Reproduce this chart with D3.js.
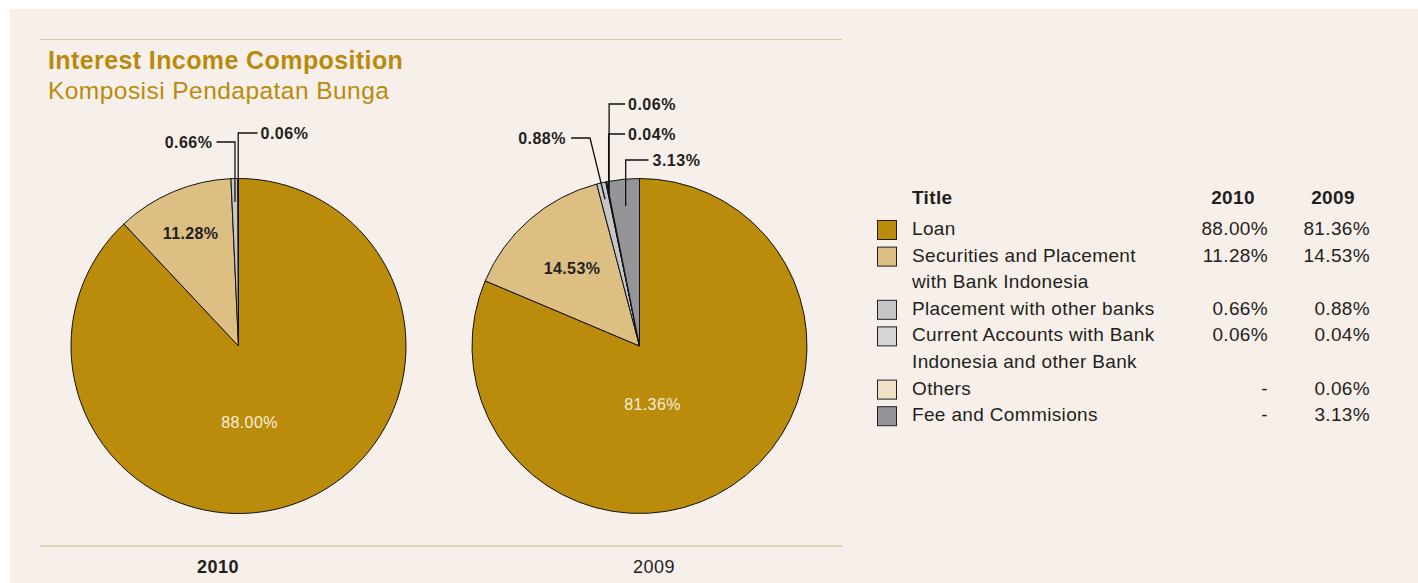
<!DOCTYPE html>
<html>
<head>
<meta charset="utf-8">
<script src="https://cdn.jsdelivr.net/npm/d3@7"></script>
<style>
  html, body { margin: 0; padding: 0; background: #ffffff; }
  svg { display: block; font-family: "Liberation Sans", Arial, Helvetica, sans-serif; }
</style>
</head>
<body>
<svg id="chart" width="1418" height="583"></svg>
<script>
// ---------------- DATA ----------------
const categories = [
  "Loan",
  "Securities and Placement with Bank Indonesia",
  "Placement with other banks",
  "Current Accounts with Bank Indonesia and other Bank",
  "Others",
  "Fee and Commisions"
];
const legendLines = [
  ["Loan"],
  ["Securities and Placement", "with Bank Indonesia"],
  ["Placement with other banks"],
  ["Current Accounts with Bank", "Indonesia and other Bank"],
  ["Others"],
  ["Fee and Commisions"]
];
const years = ["2010", "2009"];
const values2010 = [88.00, 11.28, 0.66, 0.06, null, null];
const values2009 = [81.36, 14.53, 0.88, 0.04, 0.06, 3.13];
const titleText = "Interest Income Composition";
const subtitleText = "Komposisi Pendapatan Bunga";
const tableHeader = ["Title", "2010", "2009"];

// ---------------- STYLE ----------------
const colors = ["#BB8B0B", "#DDBF84", "#C5C6C8", "#D4D5D7", "#EFE1C5", "#939598"];
const gold = "#BA8A0C";
const ink = "#231F20";
const ruleColor = "#D9C7A8";
const fmt = v => v.toFixed(2) + "%";

const svg = d3.select("#chart");
svg.append("rect").attr("x", 10).attr("y", 9).attr("width", 1408).attr("height", 574).attr("fill", "#F7F0EA");

// rules
svg.append("line").attr("x1", 40).attr("x2", 842).attr("y1", 39.5).attr("y2", 39.5)
  .attr("stroke", ruleColor).attr("stroke-width", 1.2);
svg.append("line").attr("x1", 40).attr("x2", 842).attr("y1", 546).attr("y2", 546)
  .attr("stroke", ruleColor).attr("stroke-width", 1.5);

// titles
svg.append("text").attr("x", 48).attr("y", 69).attr("fill", gold)
  .attr("font-size", 25).attr("letter-spacing", 0.4).attr("font-weight", "bold").text(titleText);
svg.append("text").attr("x", 48).attr("y", 99).attr("fill", gold)
  .attr("font-size", 24.5).attr("letter-spacing", 0.45).text(subtitleText);

// ---------------- PIES ----------------
const R = 167.5;
const pie = d3.pie().sort(null).value(d => d.v).startAngle(0).endAngle(2 * Math.PI);
const arc = d3.arc().innerRadius(0).outerRadius(R);

function polar(angle, r) { return [Math.sin(angle) * r, -Math.cos(angle) * r]; }

// per-pie layout: leader-labelled slices and inner labels
const pieConfigs = [
  {
    year: "2010", values: values2010, cx: 238.5, cy: 346, bold: true, yearX: 218,
    inner: { 0: { dx: 11, dy: 76, color: "#F8EFDD" }, 1: { r: 0.735, color: ink } },
    leaders: {
      2: { ar: 0.86, ey: 142, ex: null, hx: -22, tx: -26, anchor: "end" },
      3: { ar: 0.86, ey: 133, ex: null, hx: 19, tx: 22, anchor: "start" }
    }
  },
  {
    year: "2009", values: values2009, cx: 639.5, cy: 346, bold: false, yearX: 654,
    inner: { 0: { dx: 13, dy: 58, color: "#F8EFDD" }, 1: { r: 0.615, color: ink } },
    leaders: {
      2: { ar: 0.9, ey: 138, ex: -49.5, hx: -68.5, tx: -73.5, anchor: "end" },
      3: { ar: 0.92, ey: 134, ex: null, hx: -14.5, tx: -11.5, anchor: "start" },
      4: { ar: 0.92, ey: 104, ex: null, hx: -14.5, tx: -11.5, anchor: "start" },
      5: { ar: 0.84, ey: 160, ex: null, hx: 9, tx: 13, anchor: "start" }
    }
  }
];

pieConfigs.forEach(cfg => {
  const data = categories.map((c, i) => ({ c, i, v: cfg.values[i] || 0 }));
  const arcs = pie(data).filter(d => d.data.v > 0);
  const g = svg.append("g").attr("transform", `translate(${cfg.cx},${cfg.cy})`);

  g.selectAll("path.slice").data(arcs).join("path")
    .attr("class", "slice")
    .attr("d", arc)
    .attr("fill", d => colors[d.data.i])
    .attr("stroke", "#111")
    .attr("stroke-width", 1)
    .attr("stroke-linejoin", "round");

  // leaders
  arcs.forEach(d => {
    const L = cfg.leaders[d.data.i];
    if (!L) return;
    const mid = (d.startAngle + d.endAngle) / 2;
    const [ax, ay] = polar(mid, R * L.ar);
    const ex = L.ex === null ? ax : L.ex;
    const pts = [[ax, ay], [ex, L.ey - cfg.cy], [L.hx, L.ey - cfg.cy]];
    g.append("path").attr("d", d3.line()(pts)).attr("fill", "none")
      .attr("stroke", "#111").attr("stroke-width", 1.3);
    g.append("text").attr("x", L.tx).attr("y", L.ey - cfg.cy + 6)
      .attr("text-anchor", L.anchor).attr("font-size", 16).attr("letter-spacing", 0.5)
      .attr("font-weight", "bold").attr("fill", ink).text(fmt(d.data.v));
  });

  // inner labels
  arcs.forEach(d => {
    const I = cfg.inner[d.data.i];
    if (!I) return;
    let x, y;
    if (I.r !== undefined) {
      const mid = (d.startAngle + d.endAngle) / 2;
      [x, y] = polar(mid, R * I.r);
    } else { x = I.dx; y = I.dy; }
    g.append("text").attr("x", x).attr("y", y + 6).attr("text-anchor", "middle")
      .attr("font-size", 16).attr("letter-spacing", 0.4)
      .attr("font-weight", d.data.i === 0 ? "normal" : "bold")
      .attr("fill", I.color).text(fmt(d.data.v));
  });

  svg.append("text").attr("x", cfg.yearX).attr("y", 573)
    .attr("text-anchor", "middle").attr("font-size", 18).attr("letter-spacing", 0.5)
    .attr("font-weight", cfg.bold ? "bold" : "normal").attr("fill", ink).text(cfg.year);
});

// ---------------- LEGEND TABLE ----------------
const lg = svg.append("g");
const lineH = 26.6;
const fs = 19, ls = 0.35;
lg.append("text").attr("x", 912).attr("y", 204).attr("font-size", fs).attr("letter-spacing", ls).attr("font-weight", "bold").attr("fill", ink).text(tableHeader[0]);
lg.append("text").attr("x", 1233).attr("y", 204).attr("text-anchor", "middle").attr("font-size", fs).attr("letter-spacing", ls).attr("font-weight", "bold").attr("fill", ink).text(tableHeader[1]);
lg.append("text").attr("x", 1333).attr("y", 204).attr("text-anchor", "middle").attr("font-size", fs).attr("letter-spacing", ls).attr("font-weight", "bold").attr("fill", ink).text(tableHeader[2]);

let yc = 228;
categories.forEach((c, i) => {
  lg.append("rect").attr("x", 877.5).attr("y", yc - 7.5).attr("width", 19).attr("height", 19)
    .attr("fill", colors[i]).attr("stroke", ink).attr("stroke-width", 1);
  legendLines[i].forEach((ln, k) => {
    lg.append("text").attr("x", 912).attr("y", yc + k * lineH + 7).attr("font-size", fs)
      .attr("letter-spacing", ls).attr("fill", ink).text(ln);
  });
  const v10 = values2010[i], v09 = values2009[i];
  lg.append("text").attr("x", 1268).attr("y", yc + 7).attr("text-anchor", "end").attr("font-size", fs)
    .attr("letter-spacing", ls).attr("fill", ink).text(v10 === null ? "-" : fmt(v10));
  lg.append("text").attr("x", 1370).attr("y", yc + 7).attr("text-anchor", "end").attr("font-size", fs)
    .attr("letter-spacing", ls).attr("fill", ink).text(v09 === null ? "-" : fmt(v09));
  yc += legendLines[i].length * lineH;
});
</script>
</body>
</html>
